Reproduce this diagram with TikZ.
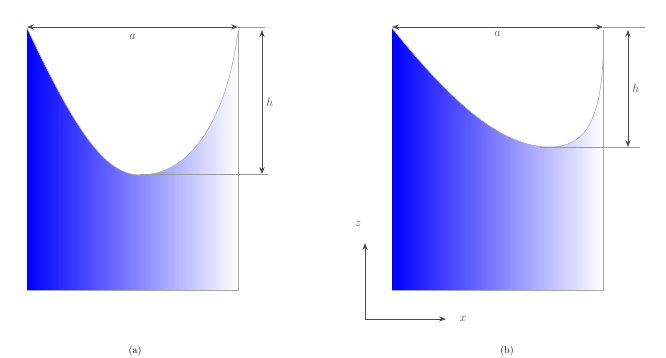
\documentclass[tikz,border=0pt]{standalone}
\usetikzlibrary{arrows.meta}

\begin{document}
\begin{tikzpicture}[
        x=1pt, y=-1pt,
        wall/.style={draw=gray!70, line width=0.6pt},
        surface/.style={draw=gray!60, line width=0.6pt},
        dim/.style={{Stealth[length=7pt]}-{Stealth[length=7pt]}, draw=black!70, line width=0.6pt},
        guide/.style={draw=gray!80, line width=0.6pt},
        axis/.style={-{Stealth[length=7pt]}, draw=black!70, line width=0.6pt},
        lbl/.style={font=\large, text=black!70, inner sep=1pt}
    ]
    \useasboundingbox (0,0) rectangle (666,357);

    % Left tank: fluid under the free surface
    \shade[left color=blue, right color=white]
        (27,28) .. controls (75,130) and (105,175) .. (140,175)
        .. controls (195,175) and (228,110) .. (238,32)
        -- (238,290) -- (27,290) -- cycle;
    \draw[surface] (27,28) .. controls (75,130) and (105,175) .. (140,175)
        .. controls (195,175) and (228,110) .. (238,32);
    \draw[wall] (238,30) -- (238,290) -- (27,290);

    % Left tank: dimensions
    \coordinate (LA) at (27,27);
    \coordinate (LB) at (238,27);
    \coordinate (LT) at (262,30);
    \coordinate (LM) at (140,174);
    \coordinate (LE) at (268,174);
    \draw[guide] (LB) -- (265,27);
    \draw[guide] (LM) -- (LE);
    \draw[dim] (LA) -- node[lbl, below=6pt] (wa) {$a$} (LB);
    \draw[dim] (LT) -- node[lbl, right=3pt] (ha) {$h$} (LT |- LE);

    % Right tank: fluid under the free surface
    \shade[left color=blue, right color=white]
        (392,28) .. controls (450,100) and (500,147) .. (550,147)
        .. controls (588,147) and (600,115) .. (603,60)
        -- (603,290) -- (392,290) -- cycle;
    \draw[surface] (392,28) .. controls (450,100) and (500,147) .. (550,147)
        .. controls (588,147) and (600,115) .. (603,60);
    \draw[wall] (603,30) -- (603,290) -- (392,290);

    % Right tank: dimensions
    \coordinate (RA) at (392,27);
    \coordinate (RB) at (603,27);
    \coordinate (RT) at (628,30);
    \coordinate (RM) at (540,147);
    \coordinate (RE) at (640,147);
    \draw[guide] (RB) -- (645,27);
    \draw[guide] (RM) -- (RE);
    \draw[dim] (RA) -- node[lbl, below=3pt] (wb) {$a$} (RB);
    \draw[dim] (RT) -- node[lbl, right=3pt] (hb) {$h$} (RT |- RE);

    % Coordinate axes
    \coordinate (O) at (365,319);
    \node[lbl] (z) at (358,224) {$z$};
    \node[lbl] (xx) at (463,319) {$x$};
    \draw[axis] (O) -- (365,243);
    \draw[axis] (O) -- (446,319);

    % Captions
    \node[anchor=south, inner sep=1pt] (capa) at (135,357) {(a)};
    \node[anchor=south, inner sep=1pt] (capb) at (507,357) {(b)};
\end{tikzpicture}
\end{document}
